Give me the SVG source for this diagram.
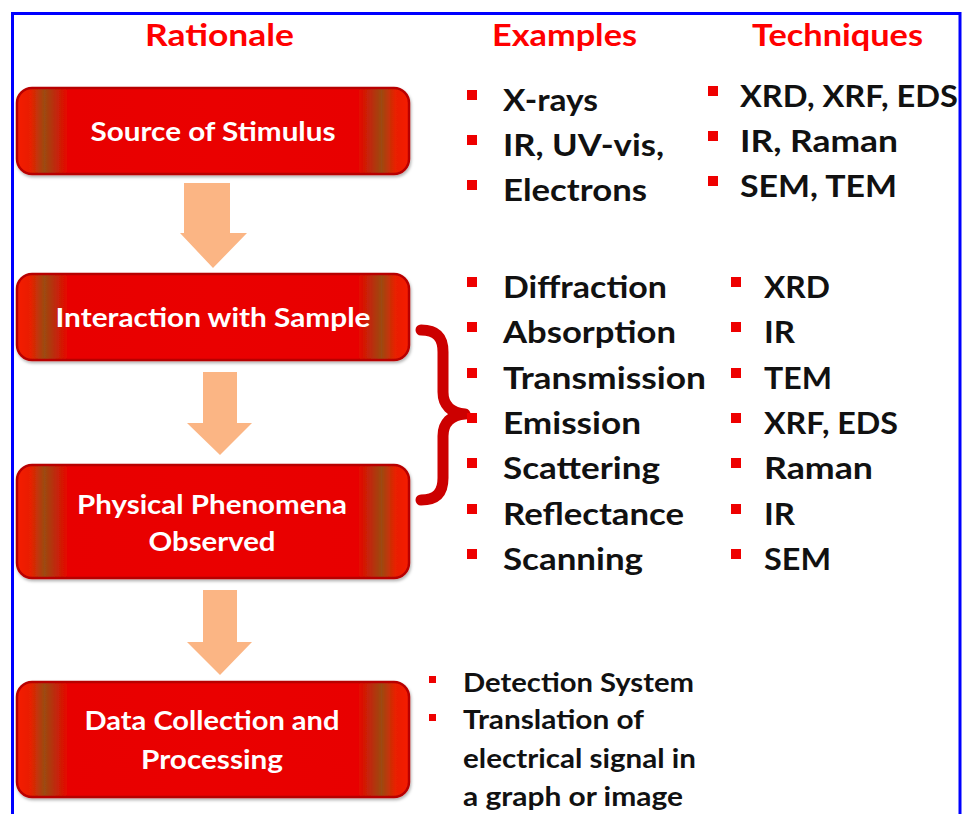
<svg xmlns="http://www.w3.org/2000/svg" width="962" height="814" viewBox="0 0 962 814">
<defs>
<linearGradient id="boxg" x1="0" y1="0" x2="1" y2="0">
<stop offset="0" stop-color="#f51a00"/>
<stop offset="0.035" stop-color="#e82000"/>
<stop offset="0.07" stop-color="#9c4a12"/>
<stop offset="0.13" stop-color="#e80400"/>
<stop offset="0.5" stop-color="#ea0000"/>
<stop offset="0.87" stop-color="#e80400"/>
<stop offset="0.93" stop-color="#9c4a12"/>
<stop offset="0.965" stop-color="#e82000"/>
<stop offset="1" stop-color="#f51a00"/>
</linearGradient>
<filter id="sh" x="-5%" y="-10%" width="110%" height="125%">
<feDropShadow dx="1" dy="2" stdDeviation="1.5" flood-color="#000" flood-opacity="0.3"/>
</filter>
</defs>
<style>
.box{fill:url(#boxg);stroke:#b80000;stroke-width:2.5;filter:url(#sh)}
.bt{font-family:Lato,"Liberation Sans",sans-serif;font-weight:bold;font-size:27.5px;fill:#fff;text-anchor:middle}
.hd{font-family:Lato,"Liberation Sans",sans-serif;font-weight:bold;font-size:31px;fill:#ff0000}
.li{font-family:Lato,"Liberation Sans",sans-serif;font-weight:bold;font-size:31px;fill:#111}
.sm{font-family:Lato,"Liberation Sans",sans-serif;font-weight:bold;font-size:26px;fill:#111}
.bu{fill:#ee0000}
.ar{fill:#fbb584}
.br{fill:none;stroke:#cc0000;stroke-width:11;stroke-linecap:round;stroke-linejoin:round}
</style>
<rect width="962" height="814" fill="#fff"/>
<path d="M12.5,814 V13.5 H960 V814" fill="none" stroke="#0000ff" stroke-width="3"/>

<g id="headers">
<text class="hd" x="145" y="46" textLength="149" lengthAdjust="spacingAndGlyphs">Rationale</text>
<text class="hd" x="492" y="46" textLength="145" lengthAdjust="spacingAndGlyphs">Examples</text>
<text class="hd" x="752" y="46" textLength="171" lengthAdjust="spacingAndGlyphs">Techniques</text>
</g>

<g id="connectors">
<polygon class="ar" points="184,183 230,183 230,233 247,233 213,268 180,233 184,233"/>
<polygon class="ar" points="203,372 237,372 237,423 252,423 220,455 187,423 203,423"/>
<polygon class="ar" points="203,590 237,590 237,642 252,642 220,675 187,642 203,642"/>
<path class="br" d="M421,330 C437,330 443,338 443,352 V392 C443,405 451,413 465,414 C451,415 443,423 443,436 V478 C443,492 437,500 421,500"/>
</g>

<g id="node-source">
<rect class="box" x="17" y="88" width="392" height="86" rx="15"/>
<text class="bt" x="213" y="141" textLength="245" lengthAdjust="spacingAndGlyphs">Source of Stimulus</text>
</g>
<g id="node-interaction">
<rect class="box" x="17" y="274" width="392" height="86" rx="15"/>
<text class="bt" x="213" y="327" textLength="315" lengthAdjust="spacingAndGlyphs">Interaction with Sample</text>
</g>
<g id="node-phenomena">
<rect class="box" x="17" y="465" width="392" height="113" rx="15"/>
<text class="bt" x="212" y="514" textLength="270" lengthAdjust="spacingAndGlyphs">Physical Phenomena</text>
<text class="bt" x="212" y="551" textLength="127" lengthAdjust="spacingAndGlyphs">Observed</text>
</g>
<g id="node-data">
<rect class="box" x="17" y="682" width="392" height="115" rx="15"/>
<text class="bt" x="212" y="730" textLength="255" lengthAdjust="spacingAndGlyphs">Data Collection and</text>
<text class="bt" x="212" y="769" textLength="142" lengthAdjust="spacingAndGlyphs">Processing</text>
</g>

<g id="examples-stimulus">
<rect class="bu" x="467" y="90" width="10" height="10"/>
<rect class="bu" x="467" y="135" width="10" height="10"/>
<rect class="bu" x="467" y="180" width="10" height="10"/>
<text class="li" x="503" y="111" textLength="95" lengthAdjust="spacingAndGlyphs">X-rays</text>
<text class="li" x="503" y="156" textLength="161" lengthAdjust="spacingAndGlyphs">IR, UV-vis,</text>
<text class="li" x="503" y="201" textLength="144" lengthAdjust="spacingAndGlyphs">Electrons</text>
</g>
<g id="techniques-stimulus">
<rect class="bu" x="708" y="86" width="10" height="10"/>
<rect class="bu" x="708" y="131" width="10" height="10"/>
<rect class="bu" x="708" y="176" width="10" height="10"/>
<text class="li" x="740" y="107" textLength="218" lengthAdjust="spacingAndGlyphs">XRD, XRF, EDS</text>
<text class="li" x="740" y="152" textLength="158" lengthAdjust="spacingAndGlyphs">IR, Raman</text>
<text class="li" x="740" y="197" textLength="157" lengthAdjust="spacingAndGlyphs">SEM, TEM</text>
</g>

<g id="examples-phenomena">
<rect class="bu" x="467" y="277" width="10" height="10"/>
<rect class="bu" x="467" y="322" width="10" height="10"/>
<rect class="bu" x="467" y="368" width="10" height="10"/>
<rect class="bu" x="467" y="413" width="10" height="10"/>
<rect class="bu" x="467" y="458" width="10" height="10"/>
<rect class="bu" x="467" y="504" width="10" height="10"/>
<rect class="bu" x="467" y="549" width="10" height="10"/>
<text class="li" x="503" y="298" textLength="164" lengthAdjust="spacingAndGlyphs">Diffraction</text>
<text class="li" x="503" y="343" textLength="173" lengthAdjust="spacingAndGlyphs">Absorption</text>
<text class="li" x="503" y="389" textLength="203" lengthAdjust="spacingAndGlyphs">Transmission</text>
<text class="li" x="503" y="434" textLength="138" lengthAdjust="spacingAndGlyphs">Emission</text>
<text class="li" x="503" y="479" textLength="157" lengthAdjust="spacingAndGlyphs">Scattering</text>
<text class="li" x="503" y="525" textLength="181" lengthAdjust="spacingAndGlyphs">Reflectance</text>
<text class="li" x="503" y="570" textLength="140" lengthAdjust="spacingAndGlyphs">Scanning</text>
</g>
<g id="techniques-phenomena">
<rect class="bu" x="731" y="277" width="10" height="10"/>
<rect class="bu" x="731" y="322" width="10" height="10"/>
<rect class="bu" x="731" y="368" width="10" height="10"/>
<rect class="bu" x="731" y="413" width="10" height="10"/>
<rect class="bu" x="731" y="458" width="10" height="10"/>
<rect class="bu" x="731" y="504" width="10" height="10"/>
<rect class="bu" x="731" y="549" width="10" height="10"/>
<text class="li" x="764" y="298" textLength="66" lengthAdjust="spacingAndGlyphs">XRD</text>
<text class="li" x="764" y="343" textLength="31" lengthAdjust="spacingAndGlyphs">IR</text>
<text class="li" x="764" y="389" textLength="68" lengthAdjust="spacingAndGlyphs">TEM</text>
<text class="li" x="764" y="434" textLength="134" lengthAdjust="spacingAndGlyphs">XRF, EDS</text>
<text class="li" x="764" y="479" textLength="109" lengthAdjust="spacingAndGlyphs">Raman</text>
<text class="li" x="764" y="525" textLength="31" lengthAdjust="spacingAndGlyphs">IR</text>
<text class="li" x="764" y="570" textLength="67" lengthAdjust="spacingAndGlyphs">SEM</text>
</g>

<g id="data-notes">
<rect class="bu" x="429" y="676" width="7" height="7"/>
<rect class="bu" x="429" y="714" width="7" height="7"/>
<text class="sm" x="463" y="692" textLength="231" lengthAdjust="spacingAndGlyphs">Detection System</text>
<text class="sm" x="463" y="729" textLength="181" lengthAdjust="spacingAndGlyphs">Translation of</text>
<text class="sm" x="463" y="768" textLength="233" lengthAdjust="spacingAndGlyphs">electrical signal in</text>
<text class="sm" x="463" y="806" textLength="220" lengthAdjust="spacingAndGlyphs">a graph or image</text>
</g>
</svg>
